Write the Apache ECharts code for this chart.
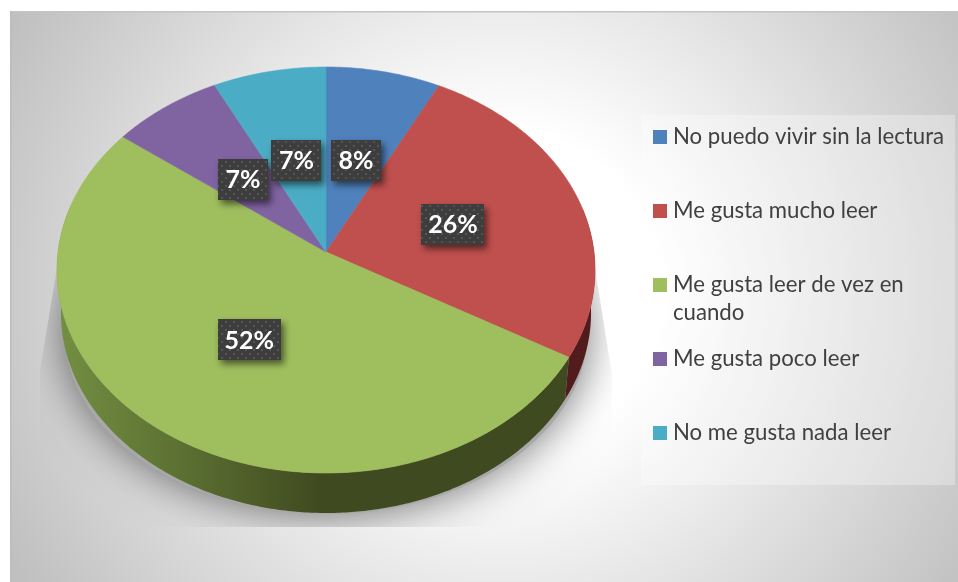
<!DOCTYPE html>
<html><head><meta charset="utf-8">
<style>html,body{margin:0;padding:0;background:#fff}#c{width:958px;height:582px}</style>
<script src="https://cdn.jsdelivr.net/npm/echarts@6/dist/echarts.min.js"></script>
</head><body><div id="c"></div>
<script>
var categories = ['No puedo vivir sin la lectura','Me gusta mucho leer','Me gusta leer de vez en cuando','Me gusta poco leer','No me gusta nada leer'];
var values = [7.5, 25.8, 51.9, 7.3, 7.4];
var percentLabels = ['8%','26%','52%','7%','7%'];
var colors = ['#4f81bd','#c0504d','#9fbe5e','#8064a2','#4bacc6'];
var wallColors = ['#2c4a6e','#521c1c','#404a20','#4a3a5e','#2a6373'];

var total = values.reduce(function(a,b){return a+b;},0);
var starts = []; values.reduce(function(a,v,i){starts[i]=a;return a+v;},0);

// perspective view of the tilted disc
var CX=326, CY=252, A=268, B=201.4, K=0.0887, DEPTH=43.3, SHRINK=0.985;
function proj(theta,s){
  var u=Math.sin(theta)*s, v=-Math.cos(theta)*s, d=1-K*v;
  return [CX+A*u/d, CY+B*v/d];
}
function low(p){ return [CX+(p[0]-CX)*SHRINK, CY+(p[1]-CY)*SHRINK+DEPTH]; }
function ang(pct){ return pct/total*2*Math.PI; }

var patternCanvas=document.createElement('canvas');
patternCanvas.width=8;patternCanvas.height=8;
(function(){var g=patternCanvas.getContext('2d');g.fillStyle='#3d3d3d';g.fillRect(0,0,8,8);
 g.fillStyle='#565656';g.fillRect(1,1,2,2);g.fillRect(5,5,2,2);})();

function sliceItem(i){
  return function(){
    var a0=ang(starts[i]), a1=ang(starts[i]+values[i]), n=Math.max(8,Math.ceil((a1-a0)/0.01));
    var top=[[CX,CY]], k, t;
    for(k=0;k<=n;k++){ t=a0+(a1-a0)*k/n; top.push(proj(t,1)); }
    var children=[];
    var w0=Math.max(a0,1.35), w1=Math.min(a1,4.95);
    if(w1>w0){
      var up=[],dn=[],m=Math.ceil((w1-w0)/0.01);
      for(k=0;k<=m;k++){ t=w0+(w1-w0)*k/m; var p=proj(t,1); up.push(p); dn.unshift(low(p)); }
      var wallFill = i===2 ? {type:'linear',global:true,x:55,y:0,x2:320,y2:0,colorStops:[
        {offset:0,color:'#748f42'},{offset:0.45,color:'#5d7233'},{offset:1,color:wallColors[i]}]} : wallColors[i];
      children.push({type:'polygon',z2:1,shape:{points:up.concat(dn)},style:{fill:wallFill}});
    }
    children.push({type:'polygon',z2:2,shape:{points:top},style:{fill:colors[i],stroke:colors[i],lineWidth:0.6}});
    return {type:'group',children:children};
  };
}
var sliceSeries=categories.map(function(name,i){
  return {type:'custom',name:name,coordinateSystem:'none',z:3,silent:true,animation:false,
    itemStyle:{color:colors[i]},data:[values[i]],renderItem:sliceItem(i)};
});

var shadowSeries={type:'custom',name:'sombra',coordinateSystem:'none',z:2,silent:true,animation:false,data:[total],
  renderItem:function(){
    return {type:'group',
      clipPath:{type:'polygon',shape:{points:[[58,262],[40,370],[40,527],[612,527],[612,375],[594,262]]}},
      children:[{type:'ellipse',shape:{cx:CX,cy:330,rx:262,ry:184},
        style:{fill:'#a8a8a8',shadowBlur:44,shadowColor:'rgba(0,0,0,0.55)',shadowOffsetY:0}}]};
  }};

var labelSeries={type:'custom',name:'etiquetas',coordinateSystem:'none',z:6,silent:true,animation:false,
  data:values.map(function(v,i){return [i];}),
  renderItem:function(params,api){
    var i=api.value(0), mid=ang(starts[i]+values[i]/2), c=proj(mid,0.5);
    c=[c[0],c[1]+(c[1]<200?2:0.5)];
    var txt=percentLabels[i], w=txt.length>2?63:50, h=41;
    return {type:'group',children:[
      {type:'rect',shape:{x:Math.round(c[0]-w/2),y:Math.round(c[1]-h/2),width:w,height:h},
       style:{fill:{image:patternCanvas,repeat:'repeat'},shadowBlur:7,shadowOffsetX:3,shadowOffsetY:4,shadowColor:'rgba(0,0,0,0.55)'}},
      {type:'text',z2:5,style:{x:c[0],y:c[1]+1,text:txt,fill:'#fff',align:'center',verticalAlign:'middle',
        font:'bold 25px Lato'}}
    ]};
  }};

var option={
  animation:false,
  backgroundColor:'#ffffff',
  graphic:[
    {type:'rect',z:0,silent:true,shape:{x:10,y:11,width:948,height:571},
     style:{fill:{type:'radial',global:true,x:500,y:292,r:555,colorStops:[
       {offset:0,color:'#ffffff'},{offset:0.29,color:'#ffffff'},{offset:1,color:'#c0c0c0'}]}}},
    {type:'rect',z:0,silent:true,shape:{x:10,y:11,width:948,height:1.5},style:{fill:'#c4c4c4'}},
    {type:'rect',z:0,silent:true,shape:{x:10,y:11,width:1.5,height:571},style:{fill:'#bcbcbc'}},
    {type:'rect',z:1,silent:true,shape:{x:641,y:115,width:314,height:370},style:{fill:'rgba(255,255,255,0.3)'}},
    {type:'text',z:8,silent:true,style:{x:673,y:313,text:'cuando',fill:'#404040',font:'22.2px Lato',verticalAlign:'middle'}}
  ],
  legend:{
    data:categories, orient:'vertical', left:653, top:125, padding:0, itemGap:50, itemWidth:14, itemHeight:14, icon:'rect',
    selectedMode:false, z:8,
    formatter:function(n){return n.replace(' cuando','');},
    textStyle:{color:'#404040',fontFamily:'Lato',fontSize:22.2,lineHeight:24,padding:[0,0,0,1]}
  },
  series:[shadowSeries].concat(sliceSeries,[labelSeries])
};
var chart=echarts.init(document.getElementById('c'),null,{renderer:'canvas'});
chart.setOption(option);
</script></body></html>
